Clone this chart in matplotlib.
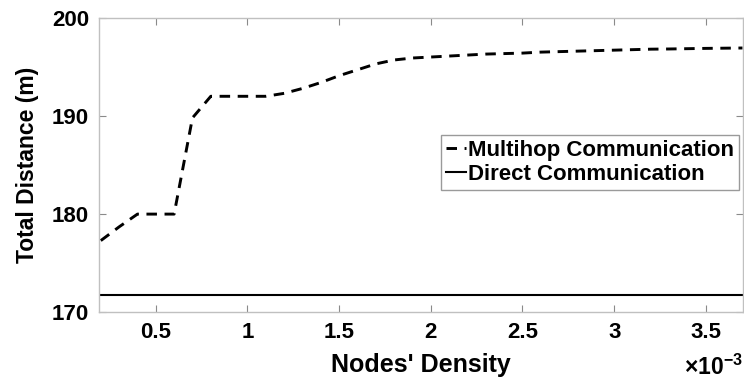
import numpy as np
import matplotlib
matplotlib.use("Agg")
import matplotlib.pyplot as plt
from matplotlib.ticker import FuncFormatter

plt.rcParams['font.family'] = ['Liberation Sans', 'DejaVu Sans']
plt.rcParams['font.weight'] = 'bold'
plt.rcParams['axes.unicode_minus'] = False
plt.rcParams['mathtext.fontset'] = 'custom'
plt.rcParams['mathtext.rm'] = 'Liberation Sans:bold'
plt.rcParams['mathtext.bf'] = 'Liberation Sans:bold'
plt.rcParams['mathtext.default'] = 'bf'

# node density, in units of 1e-3
density = [0.2, 0.3, 0.4, 0.5, 0.6, 0.7, 0.8, 0.9, 1.0, 1.1, 1.2, 1.3, 1.4, 1.5,
           1.6, 1.7, 1.8, 1.9, 2.0, 2.1, 2.2, 2.3, 2.4, 2.5, 2.6, 2.7, 2.8, 2.9,
           3.0, 3.1, 3.2, 3.3, 3.4, 3.5, 3.6, 3.7]
multihop = [177.3, 178.7, 180.0, 180.0, 180.0, 189.8, 192.0, 192.0, 192.0, 192.0,
            192.3, 192.8, 193.4, 194.1, 194.7, 195.3, 195.7, 195.9, 196.0, 196.1,
            196.2, 196.3, 196.35, 196.4, 196.5, 196.55, 196.6, 196.65, 196.7,
            196.75, 196.8, 196.82, 196.85, 196.88, 196.9, 196.92]
direct = [171.8] * len(density)
xticks = [0.5, 1, 1.5, 2, 2.5, 3, 3.5]
yticks = [170, 180, 190, 200]

fig = plt.figure(figsize=(7.44, 3.86), dpi=100)
ax = fig.add_axes([0.133, 0.191, 0.865, 0.763])

ax.plot(density, multihop, 'k--', lw=2.1, dashes=(3.6, 2.6), label='Multihop Communication')
ax.plot(density, direct, 'k-', lw=1.5, label='Direct Communication')

ax.set_xlim(0.19, 3.7)
ax.set_ylim(170, 200)
ax.set_yticks(yticks)
ax.set_xticks(xticks)
ax.xaxis.set_major_formatter(FuncFormatter(lambda v, p: '%g' % v))

for s in ax.spines.values():
    s.set_color('#c0c0c0')
    s.set_linewidth(1.0)
ax.tick_params(direction='in', length=5, color='#8a8a8a', top=True, right=True,
               labelsize=16, pad=7)

ax.set_xlabel("Nodes' Density", fontsize=18, fontweight='bold', labelpad=7)
ax.set_ylabel('Total Distance (m)', fontsize=16.5, fontweight='bold', labelpad=9)

fig.text(0.998, 0.048, r'$\times10^{-3}$', ha='right', va='center', fontsize=16.5)

leg = ax.legend(loc='upper right', bbox_to_anchor=(0.995, 0.602), fontsize=16,
                handlelength=0.9, handletextpad=0.1, borderpad=0.22,
                labelspacing=0.15, fancybox=False, framealpha=1,
                borderaxespad=0)
leg.get_frame().set_edgecolor('#9a9a9a')
leg.get_frame().set_linewidth(1.0)

fig.savefig('out.png', dpi=100)
